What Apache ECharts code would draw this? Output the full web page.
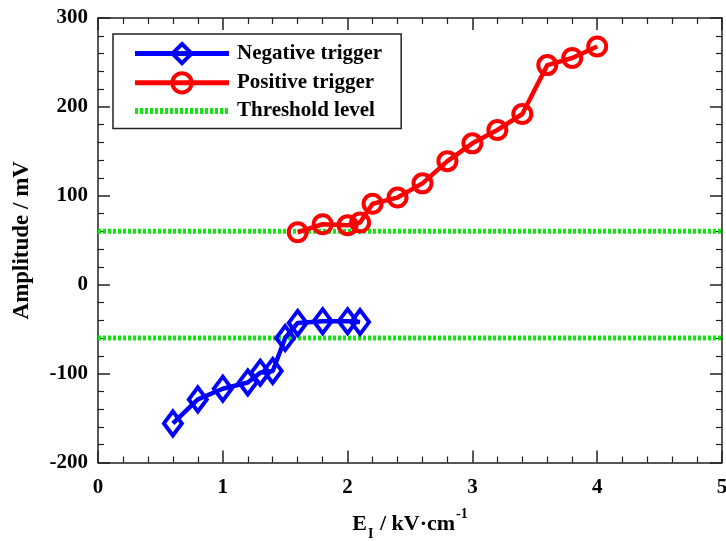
<!DOCTYPE html>
<html>
<head>
<meta charset="utf-8">
<script src="https://cdn.jsdelivr.net/npm/echarts@6/dist/echarts.min.js"></script>
<style>
  html, body { margin: 0; padding: 0; background: #fff; }
  #chart { width: 726px; height: 541px; }
</style>
</head>
<body>
<div id="chart"></div>
<script>
// Field strength (kV/cm) and signal amplitude (mV) for each trigger polarity
const negX = [0.6, 0.8, 1.0, 1.2, 1.3, 1.4, 1.5, 1.6, 1.8, 2.0, 2.1];
const negY = [-156, -129, -117, -110, -99, -97, -60, -43, -41, -41, -42];

const posX = [1.6, 1.8, 2.0, 2.1, 2.2, 2.4, 2.6, 2.8, 3.0, 3.2, 3.4, 3.6, 3.8, 4.0];
const posY = [59, 68, 67, 70, 91, 98, 114, 139, 159, 174, 192, 247, 255, 268];

// Discriminator threshold (± mV) drawn across the whole field range
const thresholdLevel = 60;
const xRange = [0, 5];
const yRange = [-200, 300];

const seriesNames = ['Negative trigger', 'Positive trigger', 'Threshold level'];

const FONT = '"Liberation Serif", "Times New Roman", serif';
const AXIS_COLOR = '#222';
const BLUE = '#0000ff';
const RED = '#ff0000';
const GREEN = '#11e611';

const pairs = (xs, ys) => xs.map((x, i) => [x, ys[i]]);

const chart = echarts.init(document.getElementById('chart'));

const baseAxis = {
  axisLine: { show: true, onZero: false, lineStyle: { color: AXIS_COLOR, width: 1.5 } },
  axisTick: { show: true, inside: true, length: 12, lineStyle: { color: AXIS_COLOR, width: 1.5 } },
  minorTick: { show: true, splitNumber: 5, length: 6, lineStyle: { color: AXIS_COLOR, width: 1.2 } },
  splitLine: { show: false },
  axisLabel: { color: '#000', fontFamily: FONT, fontWeight: 'bold', fontSize: 21 }
};

const option = {
  backgroundColor: '#fff',
  animation: false,
  grid: { left: 98, right: 4, top: 18, bottom: 78.5, containLabel: false, outerBoundsMode: 'none' },
  legend: {
    data: [
      { name: seriesNames[0], lineStyle: { width: 5, color: BLUE }, itemStyle: { borderWidth: 4, borderColor: BLUE, color: 'rgba(0,0,0,0)' } },
      { name: seriesNames[1], lineStyle: { width: 5, color: RED }, itemStyle: { borderWidth: 4, borderColor: RED, color: 'rgba(0,0,0,0)' } },
      { name: seriesNames[2], lineStyle: { width: 6, color: GREEN, type: [3, 2] }, itemStyle: { opacity: 0 } }
    ],
    orient: 'vertical',
    left: 113,
    top: 34,
    padding: [8, 19, 7, 19],
    itemGap: 6,
    itemWidth: 94,
    itemHeight: 24,
    borderColor: '#222',
    borderWidth: 1.5,
    backgroundColor: '#fff',
    textStyle: { color: '#000', fontFamily: FONT, fontWeight: 'bold', fontSize: 21, padding: [0, 0, 0, 3] }
  },
  xAxis: [
    Object.assign({}, baseAxis, {
      type: 'value', min: xRange[0], max: xRange[1], interval: 1,
      position: 'bottom',
      axisLabel: Object.assign({}, baseAxis.axisLabel, { margin: 15 }),
      name: '{e|E}{sub|I}{e| / kV·cm}{sup|-1}',
      nameLocation: 'middle',
      nameGap: 47,
      nameTextStyle: {
        color: '#000', fontFamily: FONT, fontWeight: 'bold', fontSize: 22,
        rich: {
          e: { fontFamily: FONT, fontWeight: 'bold', fontSize: 22, color: '#000', lineHeight: 26, verticalAlign: 'bottom' },
          sub: { fontFamily: FONT, fontWeight: 'bold', fontSize: 14, color: '#000', lineHeight: 26, verticalAlign: 'bottom', padding: [0, 1, -6, 1] },
          sup: { fontFamily: FONT, fontWeight: 'bold', fontSize: 14, color: '#000', lineHeight: 26, verticalAlign: 'top', padding: [-2, 0, 0, 1] }
        }
      }
    }),
    Object.assign({}, baseAxis, {
      type: 'value', min: xRange[0], max: xRange[1], interval: 1,
      position: 'top',
      axisLabel: { show: false }
    })
  ],
  yAxis: [
    Object.assign({}, baseAxis, {
      type: 'value', min: yRange[0], max: yRange[1], interval: 100,
      position: 'left',
      axisLabel: Object.assign({}, baseAxis.axisLabel, { margin: 10 }),
      name: 'Amplitude / mV',
      nameLocation: 'middle',
      nameGap: 64,
      nameTextStyle: { color: '#000', fontFamily: FONT, fontWeight: 'bold', fontSize: 23 }
    }),
    Object.assign({}, baseAxis, {
      type: 'value', min: yRange[0], max: yRange[1], interval: 100,
      position: 'right',
      axisLabel: { show: false }
    })
  ],
  series: [
    {
      name: seriesNames[2],
      type: 'line',
      data: [[xRange[0], thresholdLevel], [xRange[1], thresholdLevel]],
      symbol: 'none',
      color: GREEN,
      lineStyle: { color: GREEN, width: 5, type: [3, 2] },
      z: 1
    },
    {
      name: seriesNames[2],
      type: 'line',
      data: [[xRange[0], -thresholdLevel], [xRange[1], -thresholdLevel]],
      symbol: 'none',
      color: GREEN,
      lineStyle: { color: GREEN, width: 5, type: [3, 2] },
      z: 1
    },
    {
      name: seriesNames[0],
      type: 'line',
      data: pairs(negX, negY),
      symbol: 'diamond',
      symbolSize: [18, 24],
      color: BLUE,
      lineStyle: { color: BLUE, width: 4.5 },
      itemStyle: { color: 'rgba(0,0,0,0)', borderColor: BLUE, borderWidth: 4 },
      z: 3
    },
    {
      name: seriesNames[1],
      type: 'line',
      data: pairs(posX, posY),
      symbol: 'circle',
      symbolSize: 18,
      color: RED,
      lineStyle: { color: RED, width: 4.5 },
      itemStyle: { color: 'rgba(0,0,0,0)', borderColor: RED, borderWidth: 4 },
      z: 3
    }
  ]
};

chart.setOption(option);
</script>
</body>
</html>
